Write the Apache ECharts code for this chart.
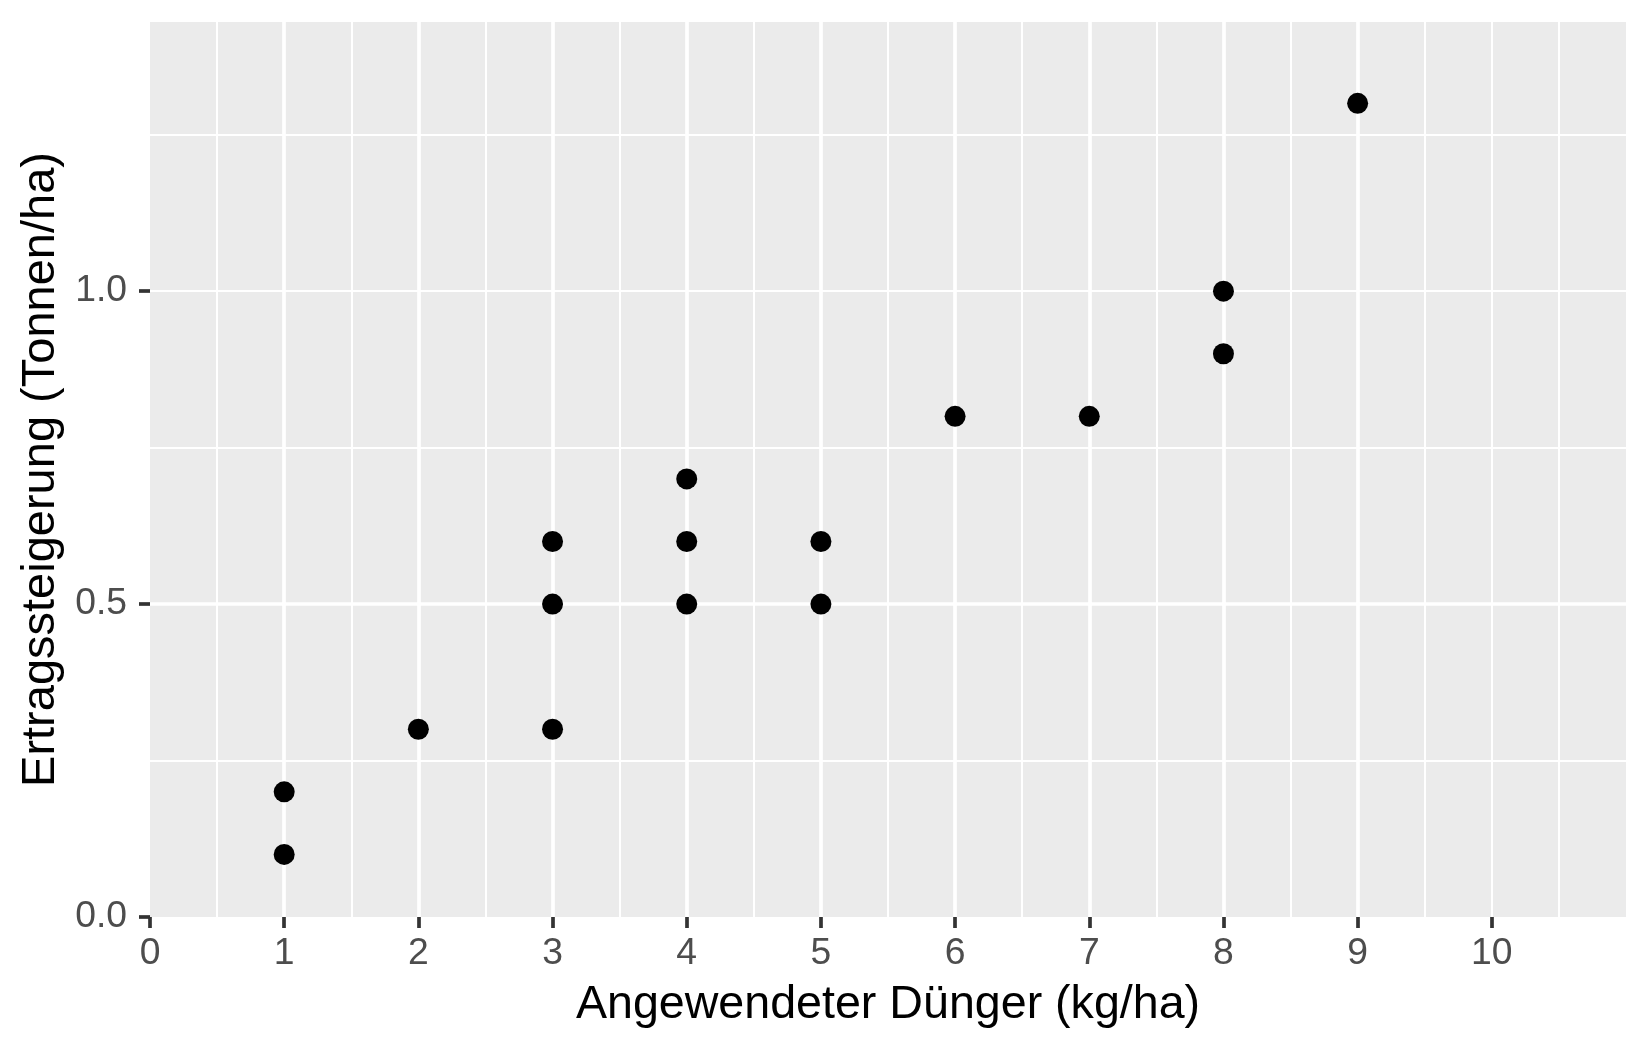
<!DOCTYPE html>
<html>
<head>
<meta charset="utf-8">
<script src="https://cdn.jsdelivr.net/npm/echarts@6/dist/echarts.min.js"></script>
<style>
html,body{margin:0;padding:0;background:#fff;}
#chart{width:1650px;height:1050px;}
</style>
</head>
<body>
<div id="chart"></div>
<script>
// Data
const fertilizer = [1, 1, 2, 3, 3, 3, 4, 4, 4, 5, 5, 6, 7, 8, 8, 9];
const yieldIncrease = [0.1, 0.2, 0.3, 0.3, 0.5, 0.6, 0.5, 0.6, 0.7, 0.5, 0.6, 0.8, 0.8, 0.9, 1.0, 1.3];
const xTicks = [0, 1, 2, 3, 4, 5, 6, 7, 8, 9, 10];
const yTicks = [0, 0.5, 1.0];
const xTitle = 'Angewendeter Dünger (kg/ha)';
const yTitle = 'Ertragssteigerung (Tonnen/ha)';

const points = fertilizer.map((x, i) => [x, yieldIncrease[i]]);
const FONT = '"Liberation Sans", Arial, sans-serif';
const XMAX = 11, YMAX = 1.43;

const chart = echarts.init(document.getElementById('chart'), null, {renderer: 'canvas'});
chart.setOption({
  animation: false,
  backgroundColor: '#FFFFFF',
  grid: {
    left: 150, right: 24, top: 22, bottom: 133,
    show: true, backgroundColor: '#EBEBEB', borderWidth: 0,
    outerBoundsMode: 'none'
  },
  xAxis: [
    {
      type: 'value', min: 0, max: XMAX, interval: 1,
      name: xTitle, nameLocation: 'middle', nameGap: 65,
      nameTextStyle: {fontSize: 46.6, color: '#000000', fontFamily: FONT},
      axisLine: {show: false},
      axisTick: {show: true, customValues: xTicks, length: 11, lineStyle: {color: '#333333', width: 3.7}},
      axisLabel: {customValues: xTicks, margin: 18, fontSize: 37.3, color: '#4D4D4D', fontFamily: FONT,
        formatter: v => String(v)},
      splitLine: {show: true, showMinLine: false, showMaxLine: false, lineStyle: {color: '#FFFFFF', width: 3.7}},
      z: 3
    },
    {
      type: 'value', min: 0, max: XMAX, interval: 0.5, position: 'bottom',
      axisLine: {show: false}, axisTick: {show: false}, axisLabel: {show: false},
      splitLine: {show: true, showMinLine: false, showMaxLine: false, lineStyle: {color: '#FFFFFF', width: 2}},
      z: 2
    }
  ],
  yAxis: [
    {
      type: 'value', min: 0, max: YMAX, interval: 0.5,
      name: yTitle, nameLocation: 'middle', nameGap: 85, nameRotate: 90,
      nameTextStyle: {fontSize: 47, color: '#000000', fontFamily: FONT},
      axisLine: {show: false},
      axisTick: {show: true, customValues: yTicks, length: 11, lineStyle: {color: '#333333', width: 3.7}},
      axisLabel: {customValues: yTicks, margin: 23, fontSize: 37.3, color: '#4D4D4D', fontFamily: FONT,
        formatter: v => Number(v).toFixed(1)},
      splitLine: {show: true, showMinLine: false, showMaxLine: false, lineStyle: {color: '#FFFFFF', width: 3.7}},
      z: 3
    },
    {
      type: 'value', min: 0, max: YMAX, interval: 0.25, position: 'left',
      axisLine: {show: false}, axisTick: {show: false}, axisLabel: {show: false},
      splitLine: {show: true, showMinLine: false, showMaxLine: false, lineStyle: {color: '#FFFFFF', width: 2}},
      z: 2
    }
  ],
  series: [{
    type: 'scatter',
    xAxisIndex: 0, yAxisIndex: 0,
    data: points,
    symbol: 'circle',
    symbolSize: 21,
    itemStyle: {color: '#000000', opacity: 1},
    z: 10
  }]
});
</script>
</body>
</html>
